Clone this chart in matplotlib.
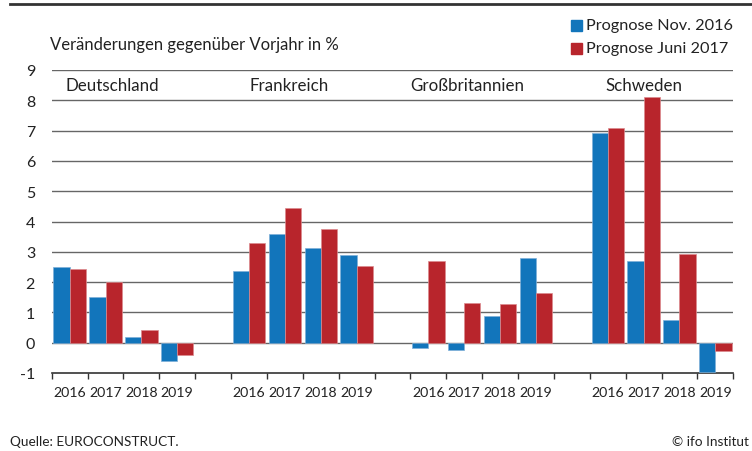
import matplotlib.pyplot as plt
import numpy as np

plt.rcParams['font.family'] = ['Source Sans Pro', 'Lato', 'DejaVu Sans']

# Daten
laender = ["Deutschland", "Frankreich", "Großbritannien", "Schweden"]
jahre = ["2016", "2017", "2018", "2019"]
prognose_nov_2016 = [
    [2.5, 1.5, 0.19, -0.6],
    [2.37, 3.6, 3.12, 2.9],
    [-0.16, -0.24, 0.89, 2.8],
    [6.92, 2.71, 0.74, -0.98],
]
prognose_juni_2017 = [
    [2.44, 2.0, 0.42, -0.4],
    [3.3, 4.45, 3.76, 2.54],
    [2.7, 1.31, 1.29, 1.64],
    [7.08, 8.1, 2.94, -0.27],
]

blau = "#1275bb"
rot = "#b8252c"
grau = "#666666"
text = "#222222"

fig = plt.figure(figsize=(7.52, 4.52), dpi=100)
ax = fig.add_axes([51.7 / 752, 78 / 452, 681.6 / 752, 303 / 452])

# Positionen: 4 Jahre je Land, eine Luecke dazwischen
slots = []
for g in range(len(laender)):
    slots.append(np.arange(4) + g * 5)
slots = np.array(slots)

w = 0.45
for g in range(len(laender)):
    ax.bar(slots[g] + 0.05, prognose_nov_2016[g], width=w, align='edge',
           color=blau, edgecolor="#7fb0d8", linewidth=0.5, zorder=3)
    ax.bar(slots[g] + 0.5, prognose_juni_2017[g], width=w, align='edge',
           color=rot, edgecolor="#dc8a8e", linewidth=0.5, zorder=3)

ax.set_xlim(0, 19)
ax.set_ylim(-1, 9)

# Gitterlinien
for v in range(0, 10):
    ax.axhline(v, color=grau, linewidth=1.0, zorder=1)
ax.set_yticks(range(-1, 10))
ax.set_yticklabels([str(v) for v in range(-1, 10)], fontsize=11.5, color=text)
ax.tick_params(axis='y', length=0, pad=12)

# x-Achse unten mit Strichen an den Slotgrenzen
ax.set_xticks(np.arange(0, 20))
ax.set_xticklabels([])
ax.tick_params(axis='x', direction='out', length=4, width=1, color="#333333")
for s in ["top", "right", "left"]:
    ax.spines[s].set_visible(False)
ax.spines["bottom"].set_color("#333333")
ax.spines["bottom"].set_linewidth(1.2)

# Jahreslabels
for g in range(len(laender)):
    for i, j in enumerate(jahre):
        ax.text(slots[g][i] + 0.5, -1.62, j, ha='center', va='center',
                fontsize=10.2, color=text)

# Laendernamen
versatz = [1.68, 1.62, 1.57, 1.51]
for g, name in enumerate(laender):
    ax.text(g * 5 + versatz[g], 8.52, name, ha='center', va='center',
            fontsize=12.2, color=text)

# Titel, Legende, Quelle
fig.text(50 / 752, 1 - 45 / 452, "Veränderungen gegenüber Vorjahr in %",
         ha='left', va='center', fontsize=12, color=text)
fig.patches.append(plt.Rectangle((571 / 752, 1 - 32 / 452), 11 / 752, 11 / 452,
                                 transform=fig.transFigure, color=blau))
fig.patches.append(plt.Rectangle((571 / 752, 1 - 55 / 452), 11 / 752, 11 / 452,
                                 transform=fig.transFigure, color=rot))
fig.text(586 / 752, 1 - 26 / 452, "Prognose Nov. 2016", ha='left', va='center',
         fontsize=11.7, color=text)
fig.text(586 / 752, 1 - 49 / 452, "Prognose Juni 2017", ha='left', va='center',
         fontsize=11.7, color=text)

fig.add_artist(plt.Line2D([10 / 752, 1], [1 - 5 / 452, 1 - 5 / 452],
                          transform=fig.transFigure, color="#333333", linewidth=2))

fig.text(10 / 752, 1 - 442 / 452, "Quelle: EUROCONSTRUCT.", ha='left', va='center',
         fontsize=9.8, color=text)
fig.text(749 / 752, 1 - 442 / 452, "© ifo Institut", ha='right', va='center',
         fontsize=9.8, color=text)

fig.savefig("out.png", dpi=100)
